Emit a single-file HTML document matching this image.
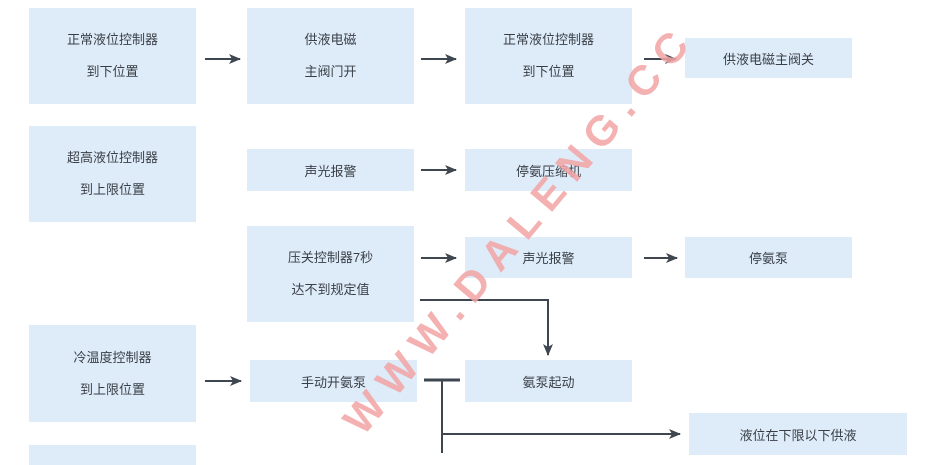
<!DOCTYPE html>
<html><head><meta charset="utf-8"><style>
body{margin:0;width:930px;height:453px;background:#fff;position:relative;overflow:hidden;font-family:"Liberation Sans","Noto Sans CJK SC",sans-serif;}
.b{position:absolute;background:#deecf9;color:#3a3f47;font-size:13px;text-align:center;display:flex;flex-direction:column;justify-content:center;}
.b2 p{margin:0;line-height:32px}
svg{position:absolute;left:0;top:0}
.wm{position:absolute;left:270px;top:228px;width:460px;text-align:center;transform:rotate(-50deg);transform-origin:center;color:#f3a4a4;font:bold 42px "Liberation Sans",sans-serif;letter-spacing:11px;opacity:.85;white-space:nowrap}
</style></head><body>
<div class="b b2" style="left:29px;top:8px;width:167px;height:96px"><p>正常液位控制器</p><p>到下位置</p></div>
<div class="b b2" style="left:247px;top:8px;width:167px;height:96px"><p>供液电磁</p><p>主阀门开</p></div>
<div class="b b2" style="left:465px;top:8px;width:167px;height:96px"><p>正常液位控制器</p><p>到下位置</p></div>
<div class="b" style="left:685px;top:38px;width:167px;height:40px">供液电磁主阀关</div>
<div class="b b2" style="left:29px;top:126px;width:167px;height:96px"><p>超高液位控制器</p><p>到上限位置</p></div>
<div class="b" style="left:247px;top:149px;width:167px;height:42px">声光报警</div>
<div class="b" style="left:465px;top:149px;width:167px;height:42px">停氨压缩机</div>
<div class="b b2" style="left:247px;top:226px;width:167px;height:96px"><p>压关控制器7秒</p><p>达不到规定值</p></div>
<div class="b" style="left:465px;top:237px;width:167px;height:41px">声光报警</div>
<div class="b" style="left:685px;top:237px;width:167px;height:41px">停氨泵</div>
<div class="b b2" style="left:29px;top:325px;width:167px;height:97px"><p>冷温度控制器</p><p>到上限位置</p></div>
<div class="b" style="left:250px;top:360px;width:167px;height:42px">手动开氨泵</div>
<div class="b" style="left:465px;top:360px;width:167px;height:42px">氨泵起动</div>
<div class="b" style="left:689px;top:413px;width:218px;height:42px">液位在下限以下供液</div>
<div class="b" style="left:29px;top:445px;width:167px;height:20px"></div>
<svg width="930" height="453">
<defs><marker id="a" markerWidth="12" markerHeight="10" refX="11" refY="5" orient="auto" markerUnits="userSpaceOnUse"><path d="M0,0 L12,5 L0,10 L3,5z" fill="#3e4650"/></marker></defs>
<g stroke="#3e4650" stroke-width="2" fill="none" marker-end="url(#a)">
<line x1="205" y1="59" x2="240" y2="59"/>
<line x1="421" y1="59" x2="456" y2="59"/>
<line x1="644" y1="59" x2="676" y2="59"/>
<line x1="421" y1="170" x2="456" y2="170"/>
<line x1="421" y1="258" x2="456" y2="258"/>
<line x1="644" y1="258" x2="677" y2="258"/>
<line x1="205" y1="381" x2="241" y2="381"/>
<polyline points="420,300 548,300 548,355"/>
<polyline points="442,434 680,434"/>
</g>
<line x1="424" y1="380" x2="460" y2="380" stroke="#3e4650" stroke-width="3"/>
<line x1="442" y1="380" x2="442" y2="453" stroke="#3e4650" stroke-width="2"/>
</svg>
<div class="wm">WWW.DALENG.CC</div>
</body></html>
